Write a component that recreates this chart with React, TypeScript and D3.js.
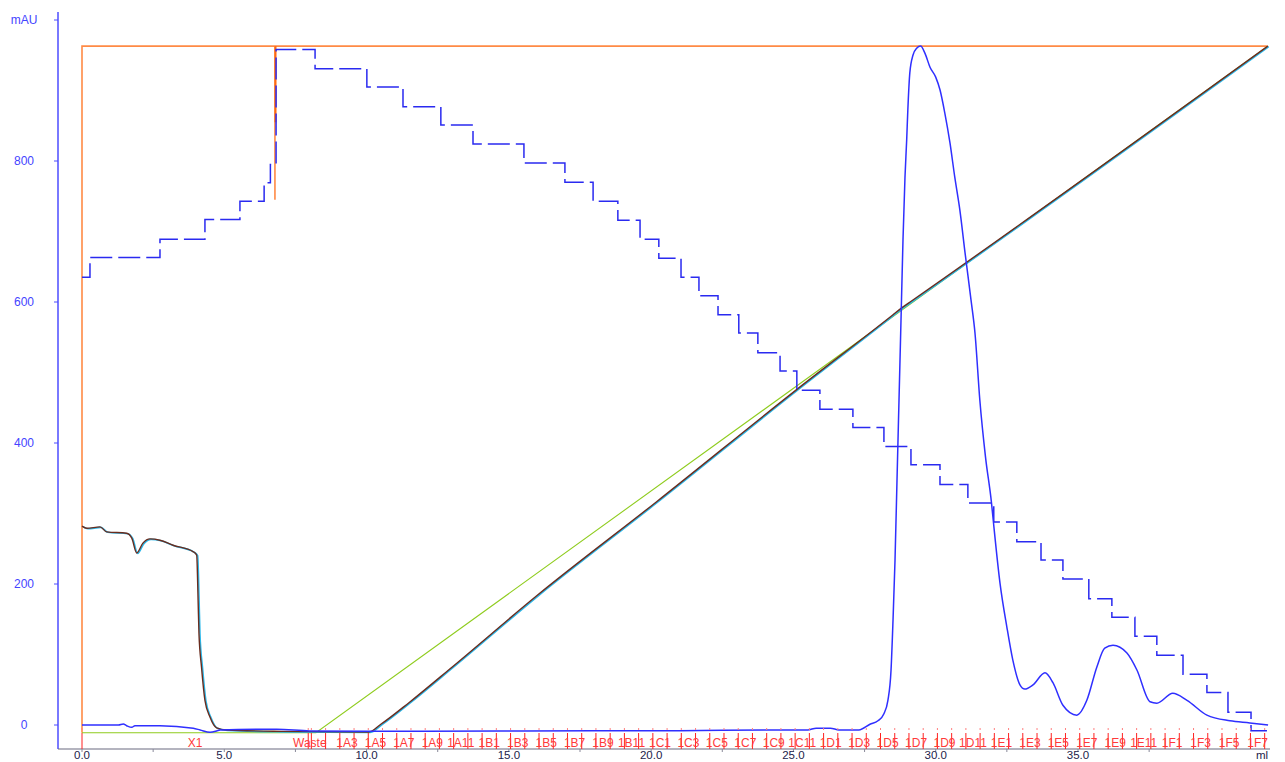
import * as d3 from "d3";

// chromatogram values, volume in ml and signal in mAU
const uvMl = [0, 1.28, 1.45, 1.57, 1.75, 1.86, 2.74, 3.91, 4.15, 4.5, 4.73, 4.85, 6.84, 8.0, 10, 12, 15.5, 18, 21, 24, 25.5, 25.8, 26.3, 26.6, 27.3, 27.69, 27.97, 28.18, 28.32, 28.43, 28.5, 28.57, 28.64, 28.71, 28.78, 28.85, 28.92, 28.98, 29.02, 29.09, 29.2, 29.33, 29.47, 29.62, 29.8, 30.0, 30.15, 30.32, 30.5, 30.67, 30.85, 31.03, 31.24, 31.38, 31.55, 31.75, 31.96, 32.01, 32.26, 32.5, 32.71, 32.96, 33.13, 33.42, 33.84, 34.12, 34.47, 34.96, 35.31, 35.66, 35.94, 36.23, 36.72, 37.07, 37.53, 37.77, 38.33, 38.83, 39.53, 40.34, 41.04, 41.68];
const uvVal = [0, 0, 1.4, -1, -3.3, -1, -1, -4.7, -7, -10.4, -8.5, -7, -6, -8.5, -9, -9, -8.5, -8, -8, -7, -7, -4.5, -4.5, -7, -7, 1, 6, 16, 35, 78, 149, 234, 348, 461, 574, 688, 777, 830, 872, 925, 950, 960, 963, 953, 933, 919, 901, 868, 826, 777, 730, 670, 603, 556, 461, 380, 315, 295, 201, 139, 92, 57, 51, 57, 74, 60, 28, 14, 35, 82, 109, 113, 102, 78, 33, 31, 45, 35, 14, 6, 3, 0];

const stepMl = [0, 0.28, 2.74, 4.32, 5.55, 6.4, 6.62, 6.82, 8.19, 10.01, 11.28, 12.61, 13.74, 15.53, 16.97, 17.96, 18.83, 19.61, 20.27, 21.05, 21.68, 22.35, 23.08, 23.75, 24.53, 25.12, 25.93, 27.09, 28.18, 29.13, 30.15, 31.13, 32.04, 32.85, 33.7, 34.47, 35.38, 36.19, 37.0, 37.77, 38.69, 39.53, 40.27, 41.08, 41.64];
const stepVal = [635, 663, 689, 717, 743, 769, 795, 958, 931, 905, 877, 851, 824, 797, 770, 743, 716, 689, 662, 635, 609, 582, 556, 528, 502, 475, 448, 422, 395, 369, 341, 315, 288, 260, 234, 207, 179, 153, 126, 99, 72, 46, 18, -8, -8];

const condMl = [0, 0.17, 0.63, 0.87, 1.57, 1.75, 1.92, 2.14, 2.39, 2.74, 3.2, 3.9, 4.03, 4.08, 4.11, 4.2, 4.32, 4.5, 4.73, 5.08, 7, 10.08, 10.5, 11.5, 13, 16, 20.17, 25.09, 28.5, 28.78, 29.1, 41.67];
const condVal = [282, 279, 281, 274, 272, 265, 244, 258, 264, 262, 255, 246, 241, 177, 130, 82, 35, 11, -4, -7, -9, -10, 1, 32, 82, 184, 316, 475, 582, 591, 600, 963];

const concMl = [0, 8.22, 41.67];
const concVal = [-11, -11, 963];

const orangeMl = [0, 0, 6.78, 6.78, 6.78, 41.67];
const orangeVal = [-11, 963, 963, 745, 963, 963];
const orangeDipMl = [6.8, 6.8];
const orangeDipVal = [963, 855];

const xTicks = [0, 5, 10, 15, 20, 25, 30, 35];
const xMinorTicks = [2.5, 7.5, 12.5, 17.5, 22.5, 27.5, 32.5, 37.5];
const yTicks = [0, 200, 400, 600, 800];
const yTopLabel = "mAU";
const xUnit = "ml";

// fractions: collector outlets, 0.5 ml each after the waste segment
const preFractions = [
  { name: "X1", from: 0, to: 7.95 },
  { name: "Waste", from: 7.95, to: 8.06 },
];
const fractionStart = 8.06;
const fractionVolume = 0.5;
const fractionNames = [
  "1A1", "1A2", "1A3", "1A4", "1A5", "1A6", "1A7", "1A8", "1A9", "1A10", "1A11", "1A12",
  "1B1", "1B2", "1B3", "1B4", "1B5", "1B6", "1B7", "1B8", "1B9", "1B10", "1B11", "1B12",
  "1C1", "1C2", "1C3", "1C4", "1C5", "1C6", "1C7", "1C8", "1C9", "1C10", "1C11", "1C12",
  "1D1", "1D2", "1D3", "1D4", "1D5", "1D6", "1D7", "1D8", "1D9", "1D10", "1D11", "1D12",
  "1E1", "1E2", "1E3", "1E4", "1E5", "1E6", "1E7", "1E8", "1E9", "1E10", "1E11", "1E12",
  "1F1", "1F2", "1F3", "1F4", "1F5", "1F6", "1F7",
];
const hiddenLabels = ["1A1"];

const W = 1285;
const H = 762;
const FONT = "'Liberation Sans', Arial, sans-serif";

const zip = (xs: number[], ys: number[]) => xs.map((x, i) => [x, ys[i]] as [number, number]);

export default function App() {
  const x = d3.scaleLinear().domain([0, 35]).range([82, 1078]);
  const y = d3.scaleLinear().domain([0, 1000]).range([725, 20]);

  const plain = d3
    .line<[number, number]>()
    .x((d) => x(d[0]))
    .y((d) => y(d[1]));
  const smooth = d3
    .line<[number, number]>()
    .x((d) => x(d[0]))
    .y((d) => y(d[1]))
    .curve(d3.curveMonotoneX);
  const stepLine = d3
    .line<[number, number]>()
    .x((d) => x(d[0]))
    .y((d) => y(d[1]))
    .curve(d3.curveStepAfter);

  const axisY = 749;
  const fractions = fractionNames.map((name, i) => ({
    name,
    from: fractionStart + i * fractionVolume,
    to: fractionStart + (i + 1) * fractionVolume,
  }));
  const allFr = [...preFractions, ...fractions];
  const bounds = Array.from(new Set(allFr.flatMap((f) => [f.from, f.to])));
  const labelled = [
    ...preFractions,
    ...fractions.filter((f, i) => i % 2 === 0 && !hiddenLabels.includes(f.name)),
  ];

  return (
    <svg
      width={W}
      height={H}
      style={{ position: "absolute", left: 0, top: 0, background: "#fff" }}
      fontFamily={FONT}
    >
      {/* y axis */}
      <line x1={58} x2={58} y1={12} y2={axisY} stroke="#4d4dff" strokeWidth={1.5} />
      {yTicks.map((t) => (
        <g key={t}>
          <line x1={54} x2={58} y1={y(t)} y2={y(t)} stroke="#4d4dff" />
          <text x={24} y={y(t) + 4} textAnchor="middle" fontSize={12} fill="#4444ff">
            {t}
          </text>
        </g>
      ))}
      <line x1={54} x2={58} y1={y(1000)} y2={y(1000)} stroke="#4d4dff" />
      <text x={24} y={y(1000) + 4} textAnchor="middle" fontSize={12} fill="#4444ff">
        {yTopLabel}
      </text>

      {/* x axis */}
      <line x1={58} x2={1270} y1={axisY} y2={axisY} stroke="#6b6b80" strokeWidth={1.2} />
      {[...xTicks, ...xMinorTicks].map((t) => (
        <line key={"t" + t} x1={x(t)} x2={x(t)} y1={axisY} y2={axisY + 3} stroke="#8a8a9a" />
      ))}
      {xTicks.map((t) => (
        <text key={t} x={x(t)} y={759} textAnchor="middle" fontSize={11.5} fill="#22224a">
          {t.toFixed(1)}
        </text>
      ))}
      <text x={1262} y={759} textAnchor="middle" fontSize={11.5} fill="#22224a">
        {xUnit}
      </text>

      {/* curves */}
      <path d={plain(zip(orangeMl, orangeVal)) ?? ""} fill="none" stroke="#ff8a45" strokeWidth={1.6} />
      <path d={plain(zip(orangeDipMl, orangeDipVal)) ?? ""} fill="none" stroke="#ff6a10" strokeWidth={2} />
      <path d={plain(zip(concMl, concVal)) ?? ""} fill="none" stroke="#8fcc1e" strokeWidth={1.1} />
      <path
        d={smooth(zip(condMl, condVal)) ?? ""}
        fill="none"
        stroke="#2bb8ea"
        strokeWidth={1.6}
        transform="translate(1,0.5)"
      />
      <path d={smooth(zip(condMl, condVal)) ?? ""} fill="none" stroke="#6a2c1e" strokeWidth={1.4} />
      <path
        d={stepLine(zip(stepMl, stepVal)) ?? ""}
        fill="none"
        stroke="#2a2af0"
        strokeWidth={1.5}
        strokeDasharray="22,6"
      />
      <path d={smooth(zip(uvMl, uvVal)) ?? ""} fill="none" stroke="#2f2fff" strokeWidth={1.5} />

      {/* fraction marks */}
      {bounds.map((b) => (
        <g key={"b" + b}>
          <line x1={x(b)} x2={x(b)} y1={728} y2={730} stroke="#ff8080" />
          <line x1={x(b)} x2={x(b)} y1={733} y2={axisY} stroke="#ff2020" />
        </g>
      ))}
      {labelled.map((f) => (
        <text
          key={f.name}
          x={x((f.from + f.to) / 2)}
          y={747}
          textAnchor="middle"
          fontSize={12}
          fill="#ff3a3a"
        >
          {f.name}
        </text>
      ))}
    </svg>
  );
}
